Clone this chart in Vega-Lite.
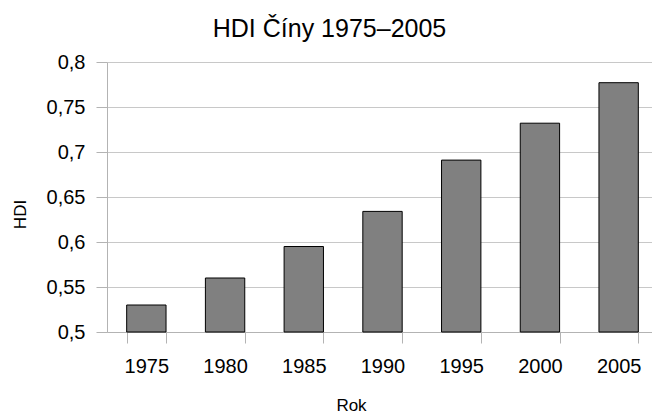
{
  "$schema": "https://vega.github.io/schema/vega-lite/v6.json",
  "autosize": {"type": "none"},
  "width": 545,
  "height": 270,
  "padding": {"left": 107, "top": 62, "right": 0, "bottom": 81},
  "background": "white",
  "title": {
    "text": "HDI Číny 1975–2005",
    "font": "Liberation Sans",
    "fontSize": 25,
    "fontWeight": "normal",
    "color": "black",
    "anchor": "middle",
    "frame": "group",
    "dx": -50,
    "offset": 10
  },
  "data": {
    "values": [
      {"rok": "1975", "hdi": 0.530},
      {"rok": "1980", "hdi": 0.560},
      {"rok": "1985", "hdi": 0.595},
      {"rok": "1990", "hdi": 0.634},
      {"rok": "1995", "hdi": 0.691},
      {"rok": "2000", "hdi": 0.732},
      {"rok": "2005", "hdi": 0.777}
    ]
  },
  "config": {
    "view": {"stroke": null},
    "font": "Liberation Sans"
  },
  "mark": {"type": "bar", "color": "#808080", "stroke": "black", "strokeWidth": 1},
  "encoding": {
    "x": {
      "field": "rok",
      "type": "ordinal",
      "title": "Rok",
      "scale": {"range": [0, 551], "paddingInner": 0.5, "paddingOuter": 0.25},
      "axis": {
        "labelAngle": 0,
        "labelFont": "Liberation Sans",
        "labelFontSize": 20,
        "labelColor": "black",
        "labelPadding": 13,
        "tickBand": "extent",
        "tickSize": 11,
        "tickColor": "#b3b3b3",
        "domainColor": "#b3b3b3",
        "grid": false,
        "titleFont": "Liberation Sans",
        "titleFontSize": 17,
        "titleFontWeight": "normal",
        "titleColor": "black",
        "titleX": 244,
        "titleAlign": "center",
        "titleY": 78,
        "titleBaseline": "alphabetic"
      }
    },
    "y": {
      "field": "hdi",
      "type": "quantitative",
      "title": "HDI",
      "scale": {"domain": [0.5, 0.8], "zero": false, "nice": false},
      "axis": {
        "values": [0.5, 0.55, 0.6, 0.65, 0.7, 0.75, 0.8],
        "labelExpr": "replace(format(datum.value, '.2~f'), '.', ',')",
        "labelFont": "Liberation Sans",
        "labelFontSize": 20,
        "labelColor": "black",
        "labelPadding": 11,
        "tickSize": 11,
        "tickColor": "#b3b3b3",
        "domainColor": "#b3b3b3",
        "grid": true,
        "gridColor": "#c8c8c8",
        "titleFont": "Liberation Sans",
        "titleFontSize": 17,
        "titleFontWeight": "normal",
        "titleColor": "black",
        "titleX": -82,
        "titleY": 152,
        "titleAlign": "center",
        "titleBaseline": "alphabetic",
        "titleAngle": 270
      }
    },
    "y2": {"datum": 0.5}
  }
}
